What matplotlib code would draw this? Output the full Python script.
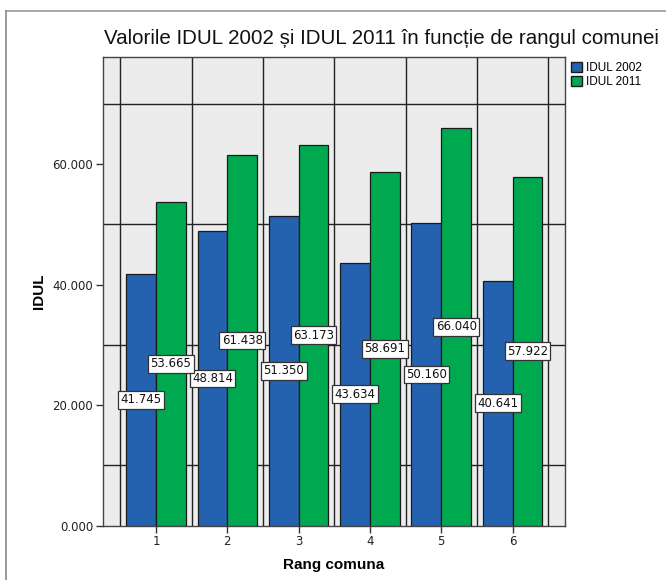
import matplotlib
matplotlib.use("Agg")
import matplotlib.pyplot as plt
from matplotlib.lines import Line2D
from matplotlib.patches import Patch
import numpy as np

categories = ["1", "2", "3", "4", "5", "6"]
idul_2002 = [41.745, 48.814, 51.350, 43.634, 50.160, 40.641]
idul_2011 = [53.665, 61.438, 63.173, 58.691, 66.040, 57.922]
series_names = ["IDUL 2002", "IDUL 2011"]
y_ticks = [0, 20, 40, 60]
y_grid = [10, 30, 50, 70]

title = "Valorile IDUL 2002 și IDUL 2011 în funcție de rangul comunei"

blue = "#2462B0"
green = "#00A84F"
edge = "#1a1a1a"

plt.rcParams['font.family'] = ['Liberation Sans', 'DejaVu Sans']

fig = plt.figure(figsize=(6.66, 5.80), dpi=100)
W, H = 666, 580
left, right, top, bottom = 103, 565, 56.7, 525.7
ax = fig.add_axes([left / W, 1 - bottom / H, (right - left) / W, (bottom - top) / H])
ax.set_facecolor("#ECECEC")

x = np.arange(1, len(categories) + 1)
w = 0.418
b1 = ax.bar(x - w / 2, idul_2002, w, color=blue, edgecolor=edge, linewidth=0.9, zorder=3)
b2 = ax.bar(x + w / 2, idul_2011, w, color=green, edgecolor=edge, linewidth=0.9, zorder=3)

for bars, vals in ((b1, idul_2002), (b2, idul_2011)):
    for r, v in zip(bars, vals):
        ax.text(r.get_x() + r.get_width() / 2, v / 2, f"{v:.3f}",
                ha="center", va="center", fontsize=8.5, color="#111111",
                family="DejaVu Sans", zorder=5,
                bbox=dict(boxstyle="square,pad=0.2", fc="white", ec="#333333", lw=0.9))

ax.set_xlim(0.256, 6.735)
ax.set_ylim(0, 77.8)
ax.set_xticks(x)
ax.set_xticklabels(categories, family="DejaVu Sans", fontsize=8.5, color="#222222")
ax.set_xticks(np.arange(0.5, len(categories) + 1, 1.0), minor=True)
ax.set_yticks(y_ticks)
ax.set_yticklabels([f"{t:.3f}" for t in y_ticks], family="DejaVu Sans", fontsize=8.5, color="#222222")
ax.set_yticks(y_grid, minor=True)
ax.tick_params(which="major", length=5, width=1, color="#333333", pad=2)
ax.tick_params(which="minor", length=0)
ax.grid(which="minor", color="#222222", linewidth=1.0, zorder=1)
ax.set_axisbelow(True)
for s in ax.spines.values():
    s.set_color("#444444")
    s.set_linewidth(1.0)

ax.set_xlabel("Rang comuna", fontsize=11, fontweight="bold", labelpad=7)
ax.set_ylabel("IDUL", fontsize=11, fontweight="bold", labelpad=5)
fig.text(381 / W, 1 - 38 / H, title, ha="center", va="center", fontsize=14.8, color="#111111")

handles = [Patch(facecolor=blue, edgecolor=edge), Patch(facecolor=green, edgecolor=edge)]
fig.legend(handles, series_names, loc="upper left", bbox_to_anchor=(563 / W, 1 - 54 / H),
           frameon=False, fontsize=8.5, handlelength=0.9, handleheight=0.9,
           handletextpad=0.35, labelspacing=0.15, borderpad=0.2)

# figure frame: top and left edges only
fig.add_artist(Line2D([6 / W, 1], [1 - 11 / H, 1 - 11 / H], transform=fig.transFigure,
                      color="#999999", linewidth=1.2))
fig.add_artist(Line2D([6 / W, 6 / W], [0, 1 - 11 / H], transform=fig.transFigure,
                      color="#888888", linewidth=1.2))

fig.savefig("out.png", dpi=100)
